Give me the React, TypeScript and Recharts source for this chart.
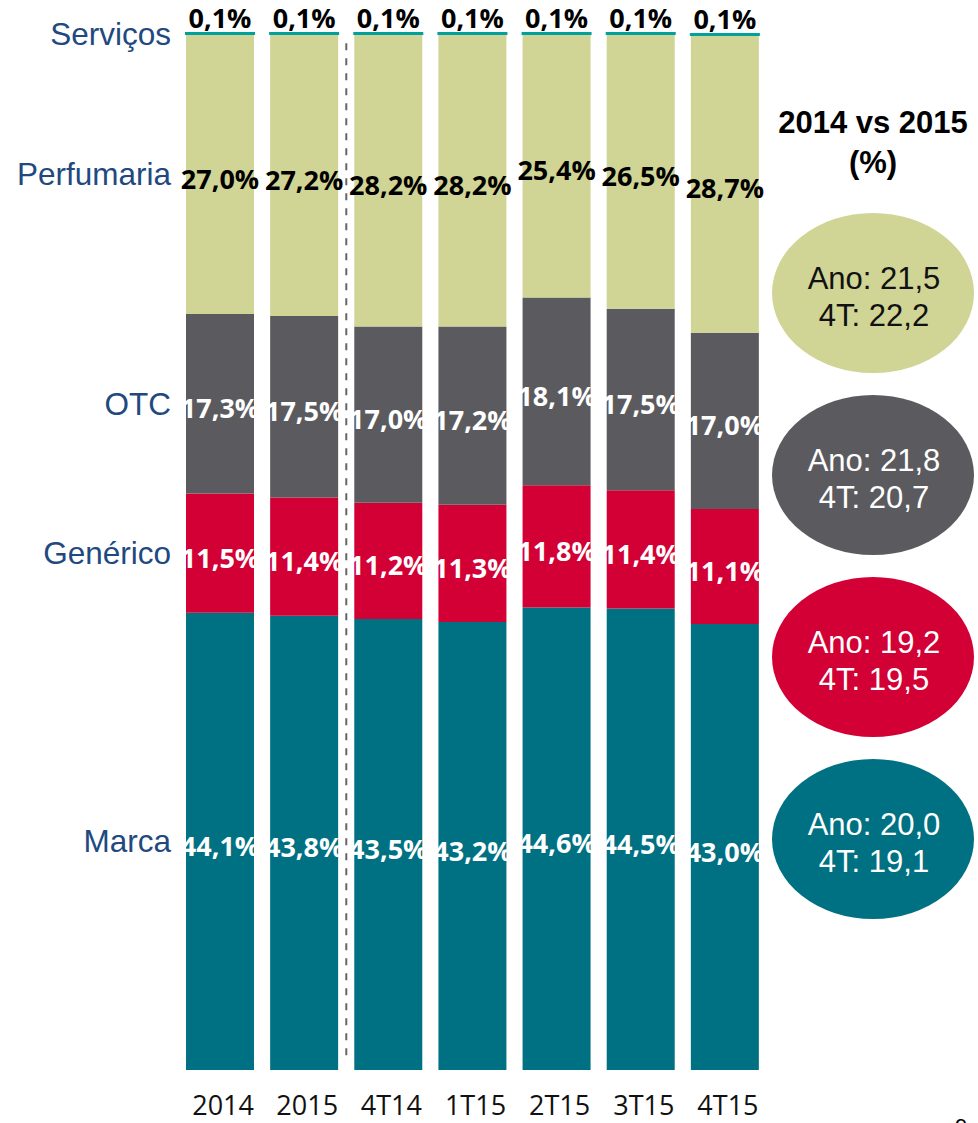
import React from "react";
import { BarChart, Bar, XAxis, YAxis, LabelList, ReferenceLine } from "recharts";

const periods = ["2014", "2015", "4T14", "1T15", "2T15", "3T15", "4T15"];
const marca = [44.1, 43.8, 43.5, 43.2, 44.6, 44.5, 43.0];
const generico = [11.5, 11.4, 11.2, 11.3, 11.8, 11.4, 11.1];
const otc = [17.3, 17.5, 17.0, 17.2, 18.1, 17.5, 17.0];
const perfumaria = [27.0, 27.2, 28.2, 28.2, 25.4, 26.5, 28.7];
const servicos = [0.1, 0.1, 0.1, 0.1, 0.1, 0.1, 0.1];

const compAno = ["21,5", "21,8", "19,2", "20,0"];
const comp4T = ["22,2", "20,7", "19,5", "19,1"];

const data = periods.map((p, i) => ({
  period: p,
  marca: marca[i],
  generico: generico[i],
  otc: otc[i],
  perfumaria: perfumaria[i],
  servicos: servicos[i],
}));

const KHAKI = "#D0D494";
const GRAY = "#5B5B5F";
const RED = "#D20035";
const TEAL = "#007182";
const LIGHT_TEAL = "#00A19C";
const BLUE = "#22497F";

const fmt = (v: number) => v.toFixed(1).replace(".", ",") + "%";

const segLabel = (name: string, textColor: string) => (props: any) => {
  const { x, y, width, height, value, index } = props;
  const cx = Number(x) + Number(width) / 2;
  const cy = Number(y) + Number(height) / 2 + 4;
  return (
    <g>
      <text
        x={cx}
        y={cy}
        textAnchor="middle"
        dominantBaseline="central"
        fontFamily="Open Sans"
        fontWeight={700}
        fontSize={27}
        fill={textColor}
      >
        {fmt(Number(value))}
      </text>
      {index === 0 && (
        <text
          x={Number(x) - 15}
          y={cy - 4 + 11}
          textAnchor="end"
          fontFamily="Liberation Sans, Arial"
          fontSize={31.5}
          fill={BLUE}
        >
          {name}
        </text>
      )}
    </g>
  );
};

const topLabel = (props: any) => {
  const { x, y, width, value, index } = props;
  return (
    <g>
      <text
        x={Number(x) + Number(width) / 2}
        y={Number(y) - 5}
        textAnchor="middle"
        fontFamily="Open Sans"
        fontWeight={700}
        fontSize={27}
        fill="#000"
      >
        {fmt(Number(value))}
      </text>
      {index === 0 && (
        <text
          x={Number(x) - 15}
          y={Number(y) + 12}
          textAnchor="end"
          fontFamily="Liberation Sans, Arial"
          fontSize={31.5}
          fill={BLUE}
        >
          Serviços
        </text>
      )}
    </g>
  );
};

const PeriodTick = (props: any) => {
  const { x, payload } = props;
  return (
    <text x={x + 3} y={1115} textAnchor="middle" fontFamily="Open Sans" fontSize={27} fill="#111">
      {payload.value}
    </text>
  );
};

const circles = [
  { color: KHAKI, text: "#111" },
  { color: GRAY, text: "#fff" },
  { color: RED, text: "#fff" },
  { color: TEAL, text: "#fff" },
];

export default function App() {
  return (
    <div style={{ position: "absolute", left: 0, top: 0, width: 978, height: 1123, background: "#fff" }}>
      <BarChart
        width={978}
        height={1123}
        data={data}
        margin={{ top: 33, right: 211, bottom: 0, left: 178 }}
        barSize={68}
      >
        <XAxis
          dataKey="period"
          axisLine={false}
          tickLine={false}
          interval={0}
          height={53}
          tick={<PeriodTick />}
        />
        <YAxis hide domain={[0, 100]} />
        <ReferenceLine
          segment={[
            { x: "2015", y: 99 },
            { x: "2015", y: 0.7 },
          ]}
          position="end"
          stroke="#666"
          strokeWidth={2}
          strokeDasharray="7 8"
        />
        <Bar dataKey="marca" stackId="a" fill={TEAL} isAnimationActive={false}>
          <LabelList dataKey="marca" content={segLabel("Marca", "#fff")} />
        </Bar>
        <Bar dataKey="generico" stackId="a" fill={RED} isAnimationActive={false}>
          <LabelList dataKey="generico" content={segLabel("Genérico", "#fff")} />
        </Bar>
        <Bar dataKey="otc" stackId="a" fill={GRAY} isAnimationActive={false}>
          <LabelList dataKey="otc" content={segLabel("OTC", "#fff")} />
        </Bar>
        <Bar dataKey="perfumaria" stackId="a" fill={KHAKI} isAnimationActive={false}>
          <LabelList dataKey="perfumaria" content={segLabel("Perfumaria", "#000")} />
        </Bar>
        <Bar
          dataKey="servicos"
          stackId="a"
          fill={LIGHT_TEAL}
          stroke={LIGHT_TEAL}
          strokeWidth={2}
          isAnimationActive={false}
        >
          <LabelList dataKey="servicos" content={topLabel} />
        </Bar>
      </BarChart>
      <svg
        width={978}
        height={1123}
        style={{ position: "absolute", left: 0, top: 0, pointerEvents: "none" }}
      >
        <text x={873} y={133} textAnchor="middle" fontFamily="Liberation Sans, Arial" fontWeight={700} fontSize={31} fill="#000">
          2014 vs 2015
        </text>
        <text x={873} y={173} textAnchor="middle" fontFamily="Liberation Sans, Arial" fontWeight={700} fontSize={31} fill="#000">
          (%)
        </text>
        {circles.map((c, i) => {
          const cy = 293 + i * 182;
          return (
            <g key={i}>
              <ellipse cx={873} cy={cy} rx={101} ry={80} fill={c.color} />
              <text x={874} y={cy - 4} textAnchor="middle" fontFamily="Liberation Sans, Arial" fontSize={31} fill={c.text}>
                Ano: {compAno[i]}
              </text>
              <text x={874} y={cy + 33} textAnchor="middle" fontFamily="Liberation Sans, Arial" fontSize={31} fill={c.text}>
                4T: {comp4T[i]}
              </text>
            </g>
          );
        })}
        <text x={955} y={1134} fontFamily="Liberation Sans, Arial" fontSize={22} fill="#000">
          9
        </text>
      </svg>
    </div>
  );
}
